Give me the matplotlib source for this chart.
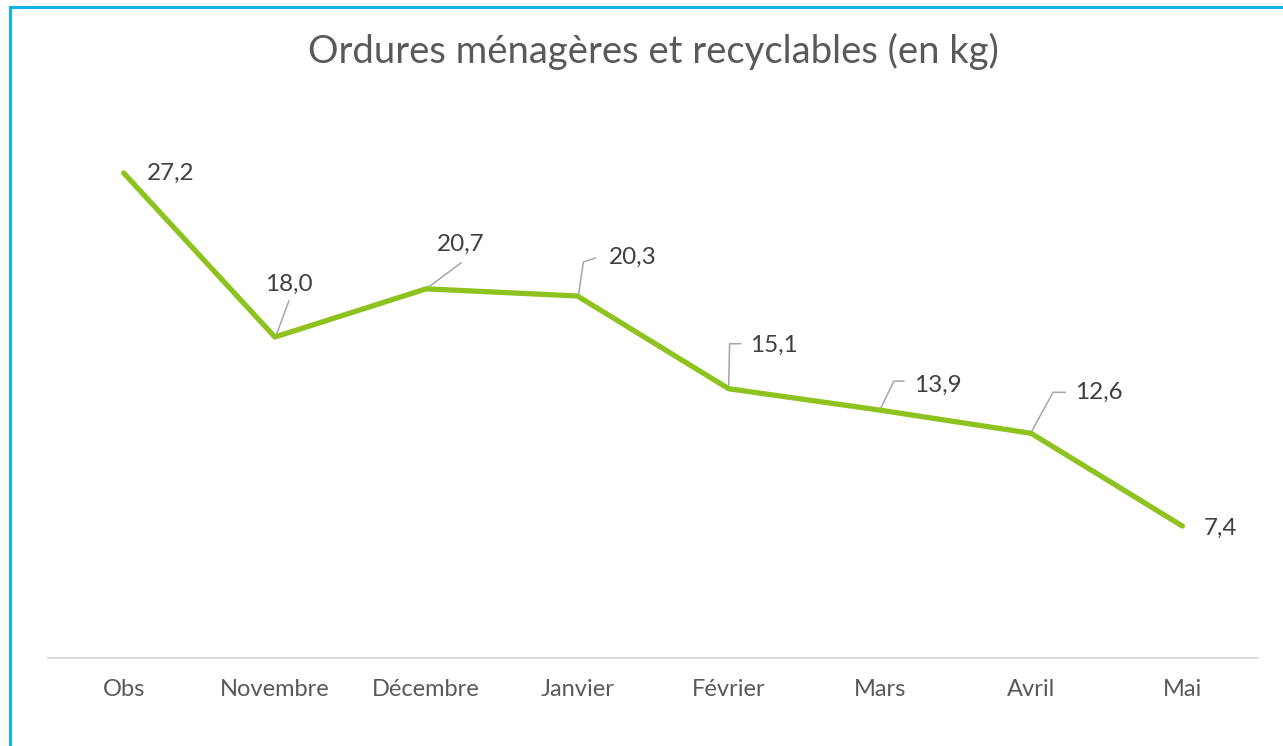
import matplotlib
matplotlib.use("Agg")
import matplotlib.pyplot as plt
import matplotlib.transforms as mtransforms
from matplotlib.patches import Rectangle

categories = ["Obs", "Novembre", "Décembre", "Janvier", "Février", "Mars", "Avril", "Mai"]
values = [27.2, 18.0, 20.7, 20.3, 15.1, 13.9, 12.6, 7.4]
value_labels = ["27,2", "18,0", "20,7", "20,3", "15,1", "13,9", "12,6", "7,4"]
title = "Ordures ménagères et recyclables (en kg)"

# label placement (pixel offsets from the point) and leader line vertices
label_offsets = [(23, 0), (14, 53), (35, 45), (31, 39), (21, 43), (34, 25), (44, 41), (21, -2)]
label_ha = ["left", "center", "center", "left", "left", "left", "left", "left"]
leaders = [
    None,
    [(1, 1), (14, 36)],
    [(0, 0), (35, 26)],
    [(1, 0), (6, 34), (18, 38)],
    [(0, 2), (1, 45), (12, 45)],
    [(0, 0), (14, 29), (24, 29)],
    [(0, 1), (22, 41), (34, 41)],
    None,
]

W, H = 1283, 746
fig = plt.figure(figsize=(W / 100, H / 100), dpi=100)
fig.patch.set_facecolor("white")

plt.rcParams["font.family"] = ["Lato", "DejaVu Sans"]

# frame border (extends past right/bottom edge)
fig.patches.append(Rectangle((9.5 / W, -0.1), 1.2, (H - 6.5) / H + 0.1, transform=fig.transFigure,
                             fill=False, edgecolor="#12B5EA", linewidth=2.2, zorder=0))

ax = fig.add_axes([48 / W, (H - 658) / H, 1210 / W, 535 / H])
x = list(range(len(categories)))
ax.plot(x, values, color="#8DC21F", linewidth=3.8, solid_capstyle="round", solid_joinstyle="round", zorder=3)
ax.set_xlim(-0.5, len(categories) - 0.5)
ax.set_ylim(0, 30)

for s in ["top", "right", "left"]:
    ax.spines[s].set_visible(False)
ax.spines["bottom"].set_color("#D9D9D9")
ax.spines["bottom"].set_linewidth(1.3)
ax.set_yticks([])
ax.set_xticks(x)
ax.set_xticklabels(categories, fontsize=17, color="#595959")
ax.tick_params(axis="x", length=0, pad=15)

for i, (xi, yi) in enumerate(zip(x, values)):
    base = mtransforms.ScaledTranslation(xi, yi, ax.transData)
    tr = mtransforms.IdentityTransform() + base
    if leaders[i] is not None:
        lx = [p[0] for p in leaders[i]]
        ly = [p[1] for p in leaders[i]]
        ax.plot(lx, ly, transform=tr, color="#A6A6A6", linewidth=1.1, zorder=2, clip_on=False)
    dx, dy = label_offsets[i]
    ax.annotate(value_labels[i], xy=(xi, yi), xytext=(dx, dy), textcoords="offset pixels",
                ha=label_ha[i], va="center", fontsize=17.5, color="#404040", zorder=4)

fig.text(653 / W, 1 - 51 / H, title, ha="center", va="center", fontsize=27.5, color="#595959")

fig.savefig("out.png", dpi=100)
